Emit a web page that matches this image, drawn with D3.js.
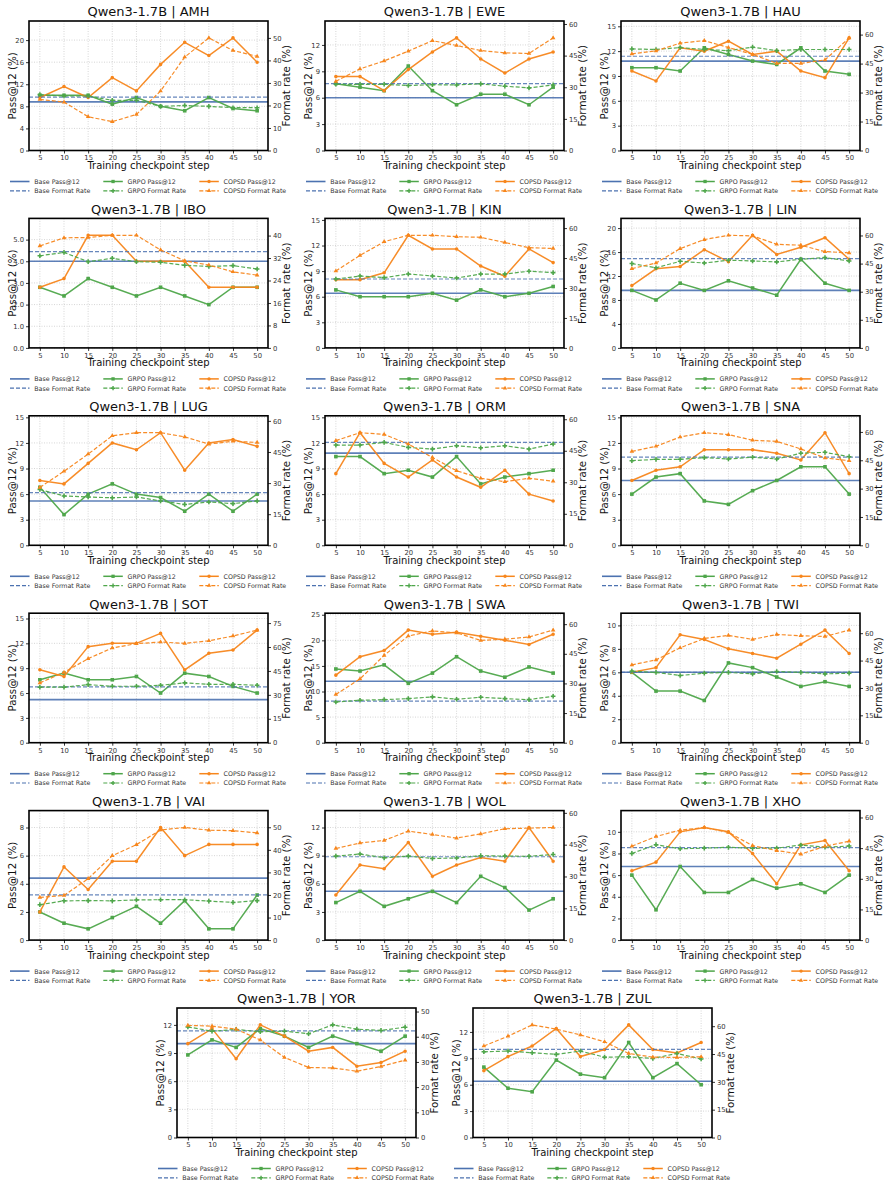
<!DOCTYPE html>
<html>
<head>
<meta charset="utf-8">
<script src="https://cdn.jsdelivr.net/npm/d3@7"></script>
<style>
body { margin: 0; background: #fff; }
text { font-family: "DejaVu Sans", sans-serif; }
</style>
</head>
<body>
<svg id="chart" width="889" height="1186"></svg>
<script>
var steps = [5, 10, 15, 20, 25, 30, 35, 40, 45, 50];
var langs = ["AMH", "EWE", "HAU", "IBO", "KIN", "LIN", "LUG", "ORM", "SNA", "SOT", "SWA", "TWI", "VAI", "WOL", "XHO", "YOR", "ZUL"];

var basePass   = [8.8, 6.0, 10.8, 4.0, 6.4, 9.6, 5.2, 10.8, 7.6, 5.2, 12.0, 6.0, 4.4, 5.2, 6.8, 10.0, 6.4];
var baseFormat = [23.7, 31.7, 48.8, 34.3, 34.5, 47.7, 25.4, 49.0, 46.7, 35.0, 21.0, 38.5, 20.0, 39.3, 45.2, 42.3, 47.5];

var grpoPass = [
  [10.0, 10.0, 10.0, 8.4, 9.6, 8.0, 7.2, 9.6, 7.6, 7.2],
  [7.6, 7.2, 6.8, 9.6, 6.8, 5.2, 6.4, 6.4, 5.2, 7.2],
  [10.0, 10.0, 9.6, 12.4, 11.6, 10.8, 10.4, 12.4, 9.6, 9.2],
  [2.8, 2.4, 3.2, 2.8, 2.4, 2.8, 2.4, 2.0, 2.8, 2.8],
  [6.8, 6.0, 6.0, 6.0, 6.4, 5.6, 6.8, 6.0, 6.4, 7.2],
  [9.6, 8.0, 10.8, 9.6, 11.2, 10.0, 8.8, 14.8, 10.8, 9.6],
  [6.8, 3.6, 6.0, 7.2, 6.0, 5.6, 4.0, 6.0, 4.0, 6.0],
  [10.4, 10.4, 8.4, 8.8, 8.0, 10.4, 7.2, 8.0, 8.4, 8.8],
  [6.0, 8.0, 8.4, 5.2, 4.8, 6.4, 7.6, 9.2, 9.2, 6.0],
  [7.6, 8.4, 7.6, 7.6, 8.0, 6.0, 8.4, 8.0, 6.8, 6.0],
  [14.4, 14.0, 15.2, 11.6, 13.6, 16.8, 14.0, 12.8, 14.8, 13.6],
  [6.0, 4.4, 4.4, 3.6, 6.8, 6.4, 5.6, 4.8, 5.2, 4.8],
  [2.0, 1.2, 0.8, 1.6, 2.4, 1.2, 2.8, 0.8, 0.8, 3.2],
  [4.0, 5.2, 3.6, 4.4, 5.2, 4.0, 6.8, 5.6, 3.2, 4.4],
  [6.0, 2.8, 6.8, 4.4, 4.4, 5.6, 4.8, 5.2, 4.4, 6.0],
  [8.8, 10.4, 9.6, 11.6, 10.8, 9.6, 10.8, 10.0, 9.2, 10.8],
  [8.0, 5.6, 5.2, 8.8, 7.2, 6.8, 10.8, 6.8, 8.4, 6.0]
];

var grpoFormat = [
  [24.8, 24.2, 24.2, 22.3, 22.3, 19.6, 20.0, 19.6, 19.0, 19.0],
  [31.4, 31.4, 31.4, 30.8, 31.2, 31.1, 31.6, 30.5, 29.7, 31.1],
  [52.6, 52.3, 53.3, 52.3, 51.7, 53.5, 51.7, 52.3, 52.3, 52.3],
  [32.8, 34.0, 30.7, 31.9, 30.7, 30.5, 29.4, 29.0, 29.3, 28.1],
  [34.5, 36.0, 35.2, 37.0, 36.0, 35.0, 37.0, 37.0, 38.4, 37.7],
  [45.0, 42.8, 46.2, 45.3, 46.8, 46.4, 45.9, 47.3, 48.2, 46.4],
  [26.9, 23.8, 23.3, 22.9, 23.3, 21.4, 19.7, 20.9, 20.1, 21.4],
  [47.7, 47.7, 49.0, 46.6, 45.8, 47.4, 46.4, 47.4, 45.8, 48.2],
  [44.8, 45.5, 45.5, 46.4, 45.7, 46.6, 45.7, 48.7, 49.2, 46.9],
  [34.8, 34.8, 36.4, 35.4, 35.4, 36.0, 37.5, 36.6, 36.6, 36.0],
  [20.6, 21.5, 21.8, 22.3, 23.2, 22.0, 23.0, 22.3, 21.8, 23.5],
  [39.2, 38.5, 36.8, 38.1, 38.5, 37.7, 39.0, 38.5, 37.7, 38.1],
  [15.7, 17.4, 17.5, 17.4, 17.8, 17.9, 17.9, 17.3, 16.7, 17.5],
  [39.6, 40.6, 38.8, 39.6, 38.5, 38.7, 39.8, 39.6, 39.5, 40.4],
  [42.4, 46.7, 44.7, 45.0, 45.4, 44.9, 45.0, 46.5, 45.5, 46.0],
  [43.9, 42.2, 42.9, 42.0, 42.2, 41.2, 44.7, 43.0, 42.5, 43.8],
  [46.2, 46.6, 45.7, 44.8, 46.6, 43.3, 43.5, 42.6, 45.3, 42.3]
];

var copsdPass = [
  [9.6, 11.6, 9.6, 13.2, 10.8, 15.6, 19.6, 17.2, 20.4, 16.0],
  [8.4, 8.4, 6.8, 9.2, 11.2, 12.8, 10.4, 8.8, 10.4, 11.2],
  [9.6, 8.4, 12.4, 12.0, 13.2, 11.6, 12.0, 9.6, 8.8, 13.6],
  [2.8, 3.2, 5.2, 5.2, 4.0, 4.0, 4.0, 2.8, 2.8, 2.8],
  [8.0, 8.0, 8.8, 13.2, 11.6, 11.6, 9.6, 8.4, 11.6, 10.0],
  [10.4, 13.2, 13.6, 16.4, 14.4, 18.8, 15.6, 16.8, 18.4, 14.8],
  [7.6, 7.2, 9.6, 12.0, 11.2, 13.2, 8.8, 12.0, 12.4, 11.6],
  [8.4, 13.2, 9.6, 8.0, 10.0, 8.0, 6.8, 8.8, 6.0, 5.2],
  [7.6, 8.8, 9.2, 11.2, 11.2, 11.2, 10.8, 10.0, 13.2, 8.4],
  [8.8, 8.0, 11.6, 12.0, 12.0, 13.2, 8.8, 10.8, 11.2, 13.6],
  [13.2, 16.8, 18.0, 22.0, 21.2, 21.6, 20.8, 20.0, 19.2, 21.2],
  [6.0, 6.4, 9.2, 8.8, 8.0, 7.6, 7.2, 8.4, 9.6, 7.6],
  [2.0, 5.2, 3.6, 5.6, 5.6, 8.0, 6.0, 6.8, 6.8, 6.8],
  [4.8, 8.0, 7.6, 10.4, 6.8, 8.0, 8.8, 8.4, 12.0, 8.4],
  [6.4, 7.2, 10.0, 10.4, 10.0, 8.0, 5.2, 8.8, 9.2, 6.4],
  [10.0, 11.6, 8.4, 12.0, 10.8, 9.2, 9.6, 7.6, 8.0, 9.2],
  [7.6, 9.2, 10.4, 12.4, 9.2, 10.0, 12.8, 10.0, 9.6, 10.8]
];

var copsdFormat = [
  [22.7, 21.5, 15.0, 12.8, 16.0, 26.4, 41.5, 50.0, 44.4, 41.8],
  [32.8, 38.7, 42.5, 47.1, 52.1, 49.8, 47.4, 46.3, 46.0, 53.4],
  [50.0, 51.6, 55.6, 56.9, 53.3, 49.8, 45.1, 45.1, 46.9, 58.3],
  [36.3, 39.2, 39.3, 40.1, 40.1, 34.9, 31.0, 29.5, 27.1, 25.9],
  [38.5, 46.3, 53.2, 56.4, 56.4, 55.7, 55.4, 52.8, 50.2, 49.8],
  [42.3, 45.3, 53.0, 57.8, 60.1, 59.8, 55.3, 54.8, 51.4, 50.7],
  [27.9, 35.7, 44.0, 52.8, 54.3, 54.3, 52.3, 48.8, 50.2, 49.6],
  [49.8, 53.6, 52.8, 48.2, 41.8, 35.5, 31.9, 30.3, 31.9, 30.5],
  [49.7, 52.4, 57.3, 59.6, 58.6, 55.6, 55.0, 51.0, 46.2, 44.8],
  [37.5, 44.1, 52.7, 59.4, 62.1, 63.1, 62.3, 63.9, 66.9, 70.6],
  [24.4, 32.3, 44.2, 54.0, 56.6, 55.6, 51.8, 52.4, 53.5, 57.0],
  [42.6, 45.4, 52.0, 57.1, 58.8, 56.6, 59.3, 58.6, 58.2, 61.7],
  [18.9, 19.8, 27.2, 37.4, 42.3, 48.8, 49.9, 48.7, 48.5, 47.5],
  [43.2, 45.8, 47.0, 51.4, 49.8, 48.1, 50.1, 52.5, 52.8, 53.1],
  [45.9, 50.7, 53.8, 55.1, 52.7, 46.2, 43.8, 42.1, 45.9, 48.4],
  [44.5, 44.2, 43.0, 38.7, 31.8, 27.8, 27.6, 26.3, 28.2, 30.7],
  [49.3, 54.6, 60.7, 58.4, 55.3, 51.6, 45.3, 43.3, 43.2, 43.5]
];

// tick labels of the left (Pass@12) and right (format rate) axes
var leftTicks = [
  [0, 4, 8, 12, 16, 20], [0, 3, 6, 9, 12], [0, 3, 6, 9, 12, 15], [0, 1, 2, 3, 4, 5],
  [0, 3, 6, 9, 12, 15], [0, 4, 8, 12, 16, 20], [0, 3, 6, 9, 12, 15], [0, 3, 6, 9, 12, 15],
  [0, 3, 6, 9, 12, 15], [0, 3, 6, 9, 12, 15], [0, 5, 10, 15, 20, 25], [0, 2, 4, 6, 8, 10],
  [0, 2, 4, 6, 8], [0, 3, 6, 9, 12], [0, 2, 4, 6, 8, 10], [0, 3, 6, 9, 12], [0, 3, 6, 9, 12]
];
var rightTicks = [
  [0, 10, 20, 30, 40, 50], [0, 15, 30, 45, 60], [0, 15, 30, 45, 60], [0, 8, 16, 24, 32, 40],
  [0, 15, 30, 45, 60], [0, 15, 30, 45, 60], [0, 15, 30, 45, 60], [0, 15, 30, 45, 60],
  [0, 15, 30, 45, 60], [0, 15, 30, 45, 60, 75], [0, 15, 30, 45, 60], [0, 15, 30, 45, 60],
  [0, 10, 20, 30, 40, 50], [0, 15, 30, 45, 60], [0, 15, 30, 45, 60], [0, 10, 20, 30, 40, 50], [0, 15, 30, 45, 60]
];

var BLUE = "#4c72b0", GREEN = "#4ea64a", ORANGE = "#f7861c";
var W = 239, H = 129.5;

var svg = d3.select("#chart");

function drawSeries(g, x, y, vals, color, dash, sym, symSize) {
    var line = d3.line().x(function(d, j) { return x(steps[j]); }).y(function(d) { return y(d); });
    g.append("path")
        .datum(vals)
        .attr("d", line)
        .attr("fill", "none")
        .attr("stroke", color)
        .attr("stroke-width", dash ? 1.2 : 1.5)
        .attr("stroke-dasharray", dash)
        .attr("stroke-opacity", 0.95);
    g.append("g").selectAll("path")
        .data(vals)
        .join("path")
        .attr("transform", function(d, j) { return "translate(" + x(steps[j]) + "," + y(d) + ")"; })
        .attr("d", d3.symbol().type(sym).size(symSize))
        .attr("fill", color);
}

function panel(i, ox, oy) {
    var g = svg.append("g").attr("transform", "translate(" + ox + "," + oy + ")");

    var x = d3.scaleLinear().domain([2.75, 52.25]).range([0, W]);
    var leftMax = d3.max(grpoPass[i].concat(copsdPass[i], [basePass[i]])) * 1.15;
    var rightMax = d3.max(grpoFormat[i].concat(copsdFormat[i], [baseFormat[i]])) * 1.15;
    var yL = d3.scaleLinear().domain([0, leftMax]).range([H, 0]);
    var yR = d3.scaleLinear().domain([0, rightMax]).range([H, 0]);

    // grid
    g.append("g").selectAll("line").data(steps).join("line")
        .attr("x1", function(d) { return x(d); }).attr("x2", function(d) { return x(d); })
        .attr("y1", 0).attr("y2", H)
        .attr("stroke", "#c4c4c4").attr("stroke-width", 0.7).attr("stroke-dasharray", "1,1.5");
    g.append("g").selectAll("line").data(leftTicks[i]).join("line")
        .attr("x1", 0).attr("x2", W)
        .attr("y1", function(d) { return yL(d); }).attr("y2", function(d) { return yL(d); })
        .attr("stroke", "#c4c4c4").attr("stroke-width", 0.7).attr("stroke-dasharray", "1,1.5");

    // base references
    g.append("line")
        .attr("x1", 0).attr("x2", W)
        .attr("y1", yL(basePass[i])).attr("y2", yL(basePass[i]))
        .attr("stroke", BLUE).attr("stroke-width", 1.6).attr("stroke-opacity", 0.9);

    drawSeries(g, x, yL, grpoPass[i], GREEN, null, d3.symbolSquare, 13);
    drawSeries(g, x, yL, copsdPass[i], ORANGE, null, d3.symbolCircle, 10);

    g.append("line")
        .attr("x1", 0).attr("x2", W)
        .attr("y1", yR(baseFormat[i])).attr("y2", yR(baseFormat[i]))
        .attr("stroke", BLUE).attr("stroke-width", 1.2).attr("stroke-dasharray", "4,2").attr("stroke-opacity", 0.85);

    drawSeries(g, x, yR, grpoFormat[i], GREEN, "4,2", d3.symbolCross, 12);
    drawSeries(g, x, yR, copsdFormat[i], ORANGE, "4,2", d3.symbolTriangle, 9);

    // axes
    var ax = g.append("g").attr("transform", "translate(0," + H + ")")
        .call(d3.axisBottom(x).tickValues(steps).tickSize(3).tickPadding(2));
    var al = g.append("g")
        .call(d3.axisLeft(yL).tickValues(leftTicks[i]).tickSize(3).tickPadding(2));
    var ar = g.append("g").attr("transform", "translate(" + W + ",0)")
        .call(d3.axisRight(yR).tickValues(rightTicks[i]).tickSize(3).tickPadding(2));
    [ax, al, ar].forEach(function(a) {
        a.select(".domain").remove();
        a.selectAll(".tick line").attr("stroke", "#000").attr("stroke-width", 0.8);
        a.selectAll(".tick text").attr("font-size", 6.8).attr("fill", "#333")
            .attr("font-family", "DejaVu Sans");
    });

    g.append("rect")
        .attr("width", W).attr("height", H)
        .attr("fill", "none").attr("stroke", "#000").attr("stroke-width", 1.6);

    // texts
    g.append("text")
        .attr("x", W / 2).attr("y", -4.6)
        .attr("text-anchor", "middle")
        .attr("font-size", 13)
        .attr("fill", "#111")
        .text("Qwen3-1.7B | " + langs[i]);
    g.append("text")
        .attr("x", W / 2).attr("y", H + 18.5)
        .attr("text-anchor", "middle")
        .attr("font-size", 10)
        .attr("fill", "#111")
        .text("Training checkpoint step");
    g.append("text")
        .attr("transform", "translate(-17," + (H / 2) + ") rotate(-90)")
        .attr("text-anchor", "middle")
        .attr("dominant-baseline", "central")
        .attr("font-size", 10.3)
        .attr("fill", "#111")
        .text("Pass@12 (%)");
    g.append("text")
        .attr("transform", "translate(" + (W + 18) + "," + (H / 2) + ") rotate(-90)")
        .attr("text-anchor", "middle")
        .attr("dominant-baseline", "central")
        .attr("font-size", 10.3)
        .attr("fill", "#111")
        .text("Format rate (%)");

    // legend
    var items = [
        { label: "Base Pass@12", col: 0, row: 0, color: BLUE, dash: null, sym: null, w: 1.6 },
        { label: "Base Format Rate", col: 0, row: 1, color: BLUE, dash: "4,2", sym: null, w: 1.2 },
        { label: "GRPO Pass@12", col: 1, row: 0, color: GREEN, dash: null, sym: d3.symbolSquare, size: 11, w: 1.5 },
        { label: "GRPO Format Rate", col: 1, row: 1, color: GREEN, dash: "4,2", sym: d3.symbolCross, size: 10, w: 1.2 },
        { label: "COPSD Pass@12", col: 2, row: 0, color: ORANGE, dash: null, sym: d3.symbolCircle, size: 9, w: 1.5 },
        { label: "COPSD Format Rate", col: 2, row: 1, color: ORANGE, dash: "4,2", sym: d3.symbolTriangle, size: 8, w: 1.2 }
    ];
    var colX = [-19, 74.3, 170.3];
    var lg = g.append("g").attr("transform", "translate(0," + (H + 31) + ")");
    items.forEach(function(it) {
        var lx = colX[it.col], ly = it.row * 9.3;
        lg.append("line")
            .attr("x1", lx).attr("x2", lx + 19.5)
            .attr("y1", ly).attr("y2", ly)
            .attr("stroke", it.color).attr("stroke-width", it.w)
            .attr("stroke-dasharray", it.dash);
        if (it.sym) {
            lg.append("path")
                .attr("transform", "translate(" + (lx + 9.75) + "," + ly + ")")
                .attr("d", d3.symbol().type(it.sym).size(it.size))
                .attr("fill", it.color);
        }
        lg.append("text")
            .attr("x", lx + 24.3).attr("y", ly)
            .attr("dominant-baseline", "central")
            .attr("font-size", 6.3)
            .attr("fill", "#333")
            .text(it.label);
    });
}

langs.forEach(function(l, i) {
    var ox, oy;
    if (i < 15) {
        ox = 29 + (i % 3) * 296;
        oy = 21 + Math.floor(i / 3) * 197.4;
    } else {
        ox = 177 + (i - 15) * 296;
        oy = 21 + 5 * 197.4;
    }
    panel(i, ox, oy);
});
</script>
</body>
</html>
